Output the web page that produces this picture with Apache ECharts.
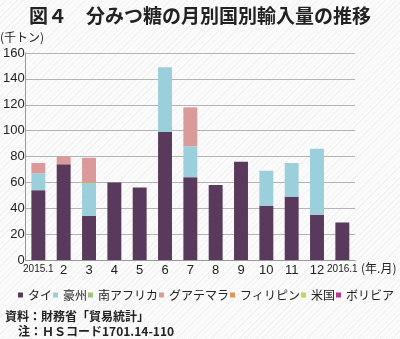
<!DOCTYPE html>
<html>
<head>
<meta charset="utf-8">
<script src="https://cdn.jsdelivr.net/npm/echarts@6/dist/echarts.min.js"></script>
<style>
  html, body { margin: 0; padding: 0; }
  body {
    width: 400px; height: 339px; overflow: hidden;
    background-color: #fbfbfb;
    background-image: repeating-linear-gradient(135deg, rgba(0,0,0,0.035) 0px, rgba(0,0,0,0.035) 1px, transparent 1px, transparent 4px);
  }
  #chart { width: 400px; height: 339px; }
</style>
</head>
<body>
<div id="chart"></div>
<script>
// Monthly imports of raw (brown) sugar by country, thousand tonnes
const months = ['2015.1', '2', '3', '4', '5', '6', '7', '8', '9', '10', '11', '12', '2016.1'];
const thailand     = [54, 74, 34, 60, 56, 99, 64, 58, 76, 42, 49, 35, 29];
const australia    = [13, 0, 25, 0, 0, 50, 24, 0, 0, 27, 26, 51, 0];
const southAfrica  = [0, 0, 1, 0, 0, 0, 0, 0, 0, 0, 0, 0, 0];
const guatemala    = [8, 6, 19, 0, 0, 0, 30, 0, 0, 0, 0, 0, 0];
const philippines  = [0, 0, 0, 0, 0, 0, 0, 0, 0, 0, 0, 0, 0];
const usa          = [0, 0, 0, 0, 0, 0, 0, 0, 0, 0, 0, 0, 0];
const bolivia      = [0, 0, 0, 0, 0, 0, 0, 0, 0, 0, 0, 0, 0];
const yTicks = [0, 20, 40, 60, 80, 100, 120, 140, 160];

const seriesDefs = [
  { name: 'タイ',       data: thailand,    color: '#5a3a5c' },
  { name: '豪州',       data: australia,   color: '#9ccfdc' },
  { name: '南アフリカ', data: southAfrica, color: '#9dc47c' },
  { name: 'グアテマラ', data: guatemala,   color: '#d99a99' },
  { name: 'フィリピン', data: philippines, color: '#e39558' },
  { name: '米国',       data: usa,         color: '#cdd24a' },
  { name: 'ボリビア',   data: bolivia,     color: '#b8358f' }
];

const sans = '"Liberation Sans", Arial, "Noto Sans CJK JP", sans-serif';
const jp = '"Noto Sans CJK JP", sans-serif';

const chart = echarts.init(document.getElementById('chart'), null, { renderer: 'canvas' });
chart.setOption({
  backgroundColor: 'transparent',
  animation: false,
  title: {
    text: '図４　分みつ糖の月別国別輸入量の推移',
    left: 'center', top: 1,
    textStyle: { fontFamily: jp, fontSize: 19, fontWeight: 'bold', color: '#222' }
  },
  grid: { left: 22, right: 45, top: 53, bottom: 79 },
  legend: {
    data: seriesDefs.map(s => s.name),
    left: 18, top: 289, width: 382, padding: 0,
    icon: 'rect', itemWidth: 5, itemHeight: 5, itemGap: 1,
    textStyle: { fontFamily: jp, fontSize: 12, color: '#222' }
  },
  xAxis: {
    type: 'category',
    data: months,
    axisLine: { show: true, lineStyle: { color: '#999', width: 1 } },
    axisTick: { show: false },
    axisLabel: {
      margin: 4, interval: 0, color: '#222',
      fontFamily: sans, fontSize: 13,
      formatter: v => v.indexOf('.') >= 0 ? '{s|' + v + '}' : v,
      rich: { s: { fontFamily: '"Liberation Sans Narrow", "Liberation Sans", sans-serif', fontSize: 10, color: '#222' } }
    }
  },
  yAxis: {
    type: 'value',
    min: yTicks[0], max: yTicks[yTicks.length - 1], interval: 20,
    axisLine: { show: true, lineStyle: { color: '#999', width: 1 } },
    axisTick: { show: false },
    splitLine: { lineStyle: { color: '#b4b4b4', width: 1 } },
    axisLabel: { margin: 1, color: '#222', fontFamily: sans, fontSize: 13 }
  },
  graphic: [
    { type: 'text', left: 0, top: 31, style: { text: '(千トン)', font: '12px ' + jp, fill: '#222' } },
    { type: 'text', left: 361, top: 262, style: { text: '(年.月)', font: '12px ' + jp, fill: '#222' } },
    { type: 'text', left: 5, top: 310, style: { text: '資料：財務省「貿易統計」', font: 'bold 12px ' + jp, fill: '#222' } },
    { type: 'text', left: 18, top: 325, style: { text: '注：ＨＳコード1701.14-110', font: 'bold 12px ' + jp, fill: '#222' } }
  ],
  series: seriesDefs.map(s => ({
    name: s.name,
    type: 'bar',
    stack: 'total',
    barWidth: '55%',
    data: s.data,
    itemStyle: { color: s.color }
  }))
});
</script>
</body>
</html>
